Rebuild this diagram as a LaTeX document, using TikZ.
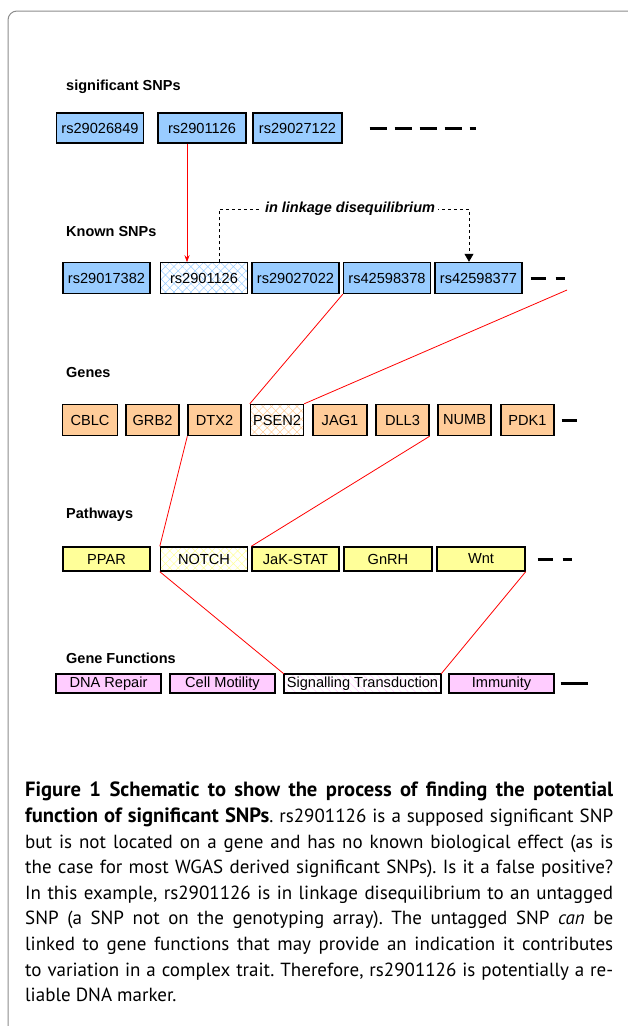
\documentclass[tikz,border=0pt]{standalone}
\usepackage{fontspec}
\setmainfont{Liberation Sans}
\newfontfamily\capfont{PT Sans}
\usetikzlibrary{arrows.meta}
\usetikzlibrary{patterns.meta}
\definecolor{snpblue}{HTML}{99CCFF}
\definecolor{geneorange}{HTML}{FFCC99}
\definecolor{pathyellow}{HTML}{FFFF99}
\definecolor{funcpink}{HTML}{FFCCFF}
\definecolor{framegray}{HTML}{8C8C8C}

\begin{document}
\begin{tikzpicture}[x=1pt,y=-1pt,
    box/.style={draw=black,line width=1.4pt,inner sep=0pt,font=\fontsize{14.6}{16}\selectfont},
    snpbox/.style={box,fill=snpblue,minimum width=87pt,minimum height=31pt},
    genebox/.style={box,fill=geneorange,minimum width=53pt,minimum height=31pt},
    pathbox/.style={box,fill=pathyellow,minimum width=87pt,minimum height=24pt},
    funcbox/.style={box,fill=funcpink,minimum width=105pt,minimum height=19pt},
    rowlabel/.style={anchor=west,inner sep=0pt,font=\bfseries\fontsize{14.5}{16}\selectfont},
    more/.style={line width=3pt,dash pattern=on 15pt off 10pt},
    link/.style={red,line width=0.8pt}]
   \clip (0,0) rectangle (628,1026);
   \draw[framegray,line width=1pt,rounded corners=9pt] (8,11) rectangle (645,1040);

   % significant SNPs
   \node[rowlabel] (l1) at (66,87) {significant SNPs};
   \node[snpbox,minimum height=30pt] (s1) at (100,128) {rs29026849};
   \node[snpbox,minimum height=30pt,minimum width=88pt] (s2) at (202,128) {rs2901126};
   \node[snpbox,minimum height=30pt,minimum width=89pt] (s3) at (297.5,128) {rs29027122};
   \draw[line width=3pt,dash pattern=on 17pt off 8pt] ([xshift=27pt]s3.east) -- ++(106,0);

   % known SNPs
   \node[rowlabel] (l2) at (66,232) {Known SNPs};
   \node[snpbox] (k1) at (106.5,278) {rs29017382};
   \node[snpbox,fill=none,pattern={Hatch[angle=45,distance=6pt,line width=0.5pt]},pattern color=snpblue] (k2) at (204,278) {rs2901126};
   \node[snpbox] (k3) at (295.5,278) {rs29027022};
   \node[snpbox] (k4) at (387,278) {rs42598378};
   \node[snpbox] (k5) at (478.5,278) {rs42598377};
   \draw[more] ([xshift=8pt]k5.east) -- ++(34,0);

   % genes
   \node[rowlabel] (l3) at (66,373) {Genes};
   \node[genebox,minimum width=55pt] (g1) at (90,420) {CBLC};
   \node[genebox] (g2) at (152.5,420) {GRB2};
   \node[genebox] (g3) at (214.5,420) {DTX2};
   \node[genebox,fill=none,pattern={Hatch[angle=45,distance=6pt,line width=0.5pt]},pattern color=geneorange] (g4) at (277,420) {PSEN2};
   \node[genebox,minimum width=54pt] (g5) at (340,420) {JAG1};
   \node[genebox] (g6) at (402.5,420) {DLL3};
   \node[genebox] (g7) at (464.5,420) {NUMB};
   \node[genebox] (g8) at (527.5,420) {PDK1};
   \draw[line width=3pt] ([xshift=7pt]g8.east) -- ++(15,0);

   % pathways
   \node[rowlabel] (l4) at (66,515) {Pathways};
   \node[pathbox] (p1) at (106.5,559) {PPAR};
   \node[pathbox,fill=none,pattern={Hatch[angle=45,distance=6pt,line width=0.5pt]},pattern color=pathyellow] (p2) at (204,559) {NOTCH};
   \node[pathbox] (p3) at (295.5,559) {JaK-STAT};
   \node[pathbox,minimum width=88pt] (p5) at (388,559) {GnRH};
   \node[pathbox,minimum width=88pt] (p6) at (481,559) {Wnt};
   \draw[more] ([xshift=12pt]p6.east) -- ++(34,0);

   % gene functions
   \node[rowlabel] (l5) at (66,658) {Gene Functions};
   \node[funcbox] (f1) at (108.5,683.5) {DNA Repair};
   \node[funcbox] (f2) at (222.5,683.5) {Cell Motility};
   \node[funcbox,minimum width=157pt,fill=none,pattern={Lines[angle=-45,distance=5pt,line width=0.5pt]},pattern color=funcpink] (f3) at (362.5,683.5) {Signalling Transduction};
   \node[funcbox] (f4) at (501.5,683.5) {Immunity};
   \draw[line width=3pt] ([xshift=6pt]f4.east) -- ++(27,0);

   % links between the rows
   \coordinate (hidden) at (567,290);
   \draw[link,-{Stealth[length=7pt,width=5pt]}] (s2.south -| 187,0) -- (k2.north -| 187,0);
   \draw[dashed,line width=0.8pt,-{Triangle[length=8pt,width=9pt]}] (k2.north -| 219,0) |- (350,209)
      node[fill=white,inner sep=3pt,font=\bfseries\itshape\fontsize{14.5}{16}\selectfont] (ld) {in linkage disequilibrium}
      -| (k5.north -| 469,0);
   \draw[link] (k4.south west) -- (g4.north west);
   \draw[link] (hidden) -- (g4.north east);
   \draw[link] (g3.south west) -- (p2.north west);
   \draw[link] (g6.south east) -- (p3.north west);
   \draw[link] (p2.south west) -- (f3.north west);
   \draw[link] (p6.south east) -- (f3.north east);

   % caption
   \node[anchor=north west,inner sep=0pt,text width=588pt,align=justify,
         font=\capfont\fontsize{19}{25.6}\selectfont] (cap) at (25,782)
   {\tolerance=10000\hyphenpenalty=10000\frenchspacing
    \textbf{\fontsize{20.6}{25.6}\selectfont Figure 1 Schematic to show the process of finding the potential\hspace{10pt}\linebreak
    function of significant SNPs}. rs2901126 is a supposed significant SNP\linebreak
    but is not located on a gene and has no known biological effect (as is\linebreak
    the case for most WGAS derived significant SNPs). Is it a false positive?\linebreak
    In this example, rs2901126 is in linkage disequilibrium to an untagged\linebreak
    SNP (a SNP not on the genotyping array). The untagged SNP \emph{can} be\linebreak
    linked to gene functions that may provide an indication it contributes\linebreak
    to variation in a complex trait. Therefore, rs2901126 is potentially a re-\linebreak
    liable DNA marker.};
\end{tikzpicture}
\end{document}
